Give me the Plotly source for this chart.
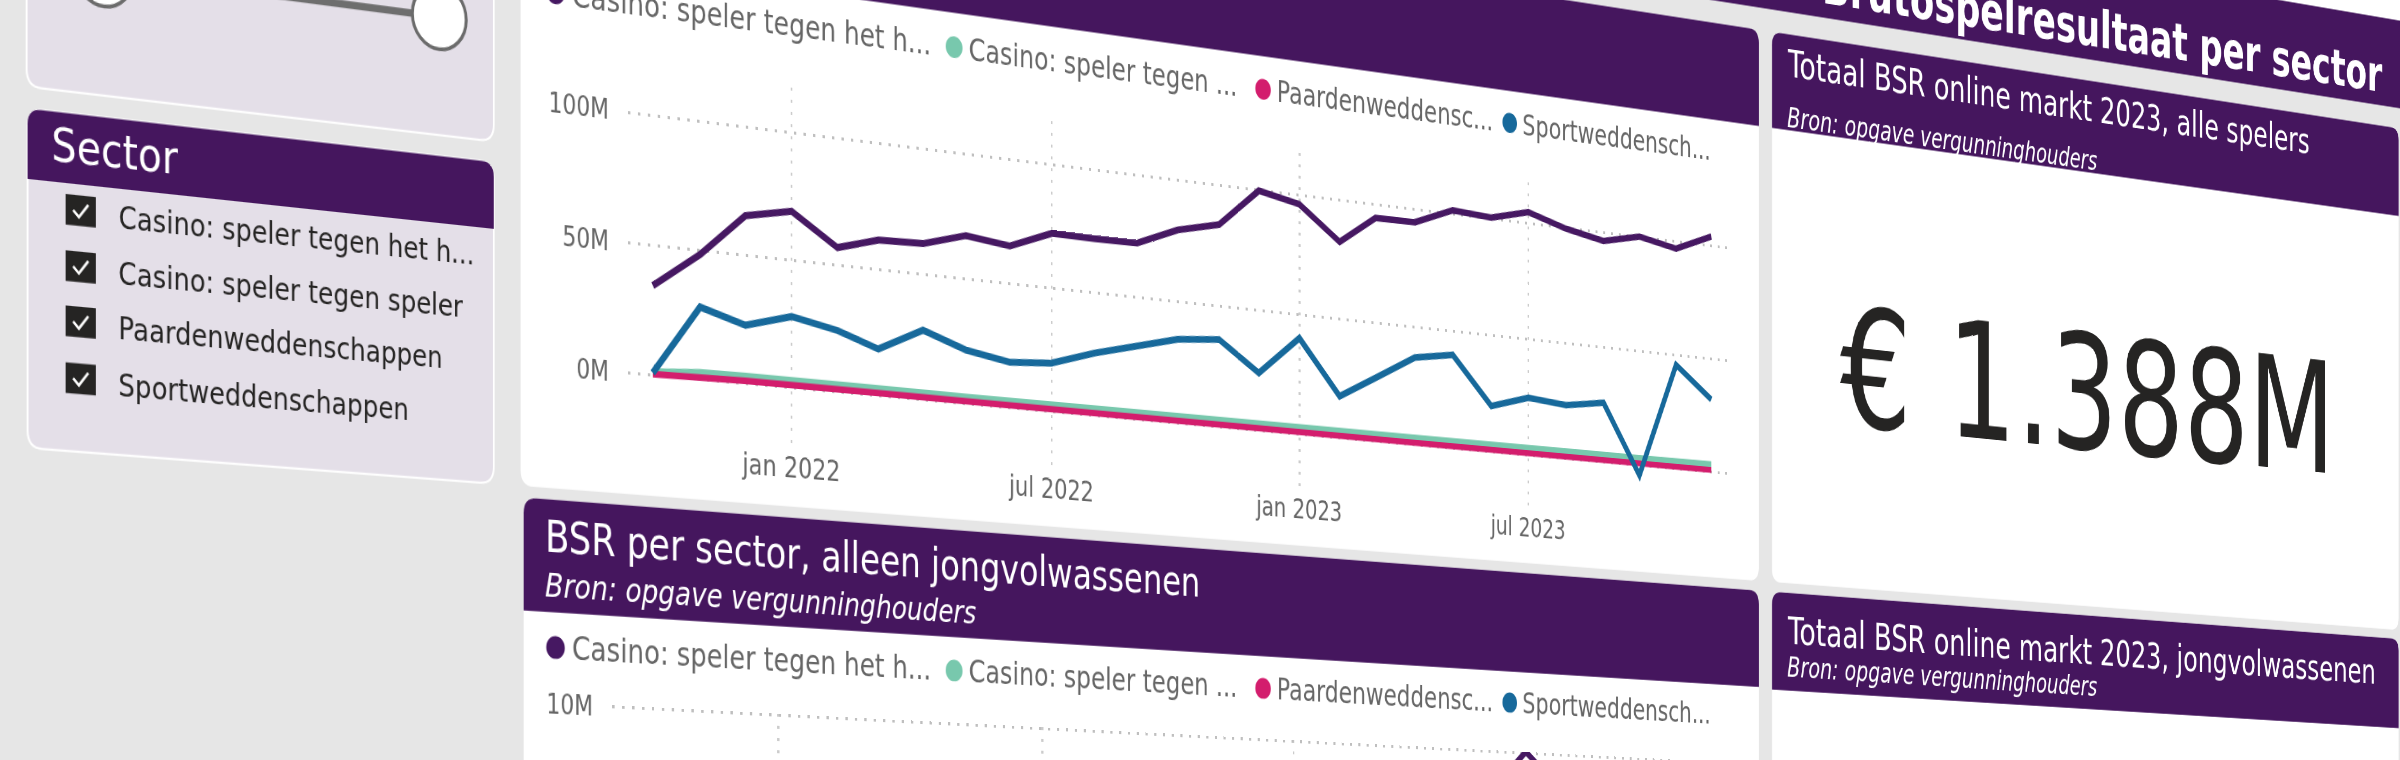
import numpy as np
import pandas as pd
import plotly.graph_objects as go

# ---------------- data (values in millions of euro) ----------------
months = pd.date_range("2021-10-01", "2023-12-01", freq="MS")

series_names = ["Casino: speler tegen het huis", "Casino: speler tegen speler",
                "Paardenweddenschappen", "Sportweddenschappen"]
legend_labels = ["Casino: speler tegen het h...", "Casino: speler tegen ...",
                 "Paardenweddensc...", "Sportweddensch..."]
slicer_labels = ["Casino: speler tegen het h...", "Casino: speler tegen speler",
                 "Paardenweddenschappen", "Sportweddenschappen"]
series_colors = ["#461862", "#78c8ad", "#d31d6d", "#17699b"]

all_huis = [34.5, 48.4, 65.4, 69.1, 56.9, 61.6, 62.2, 67.3, 65.1, 72.1, 71.9, 72.1, 79.4, 83.6,
            99.6, 96.0, 82.3, 94.2, 94.4, 101.4, 100.3, 104.6, 99.5, 96.2, 100.0, 96.7, 103.9]
all_speler = [1.5, 2.9, 3.1, 3.2, 3.1, 3.0, 3.0, 2.9, 2.9, 2.8, 2.9, 3.0, 3.1, 3.2,
              3.3, 3.3, 3.1, 3.2, 3.1, 3.2, 3.2, 3.3, 3.3, 3.4, 3.4, 3.5, 3.6]
all_paard = [0.5, 1.1, 1.2, 1.2, 1.1, 1.2, 1.2, 1.1, 1.2, 1.1, 1.1, 1.1, 1.1, 1.2,
             1.2, 1.1, 1.0, 1.0, 1.0, 1.0, 1.0, 1.0, 1.0, 1.0, 1.0, 1.0, 1.0]
all_sport = [1.0, 28.1, 22.8, 28.0, 24.3, 18.6, 27.8, 21.6, 18.4, 19.7, 25.5, 30.4, 34.5, 36.2,
             24.0, 40.2, 17.6, 26.8, 37.1, 39.9, 19.7, 24.8, 23.3, 25.9, -4.2, 45.7, 32.1]

jong_huis = [2.5, 3.6, 4.8, 5.2, 4.4, 4.7, 4.8, 5.1, 5.0, 5.6, 5.6, 5.7, 6.3, 6.6,
             7.9, 7.7, 6.6, 7.6, 7.7, 8.3, 8.4, 10.05, 8.6, 8.2, 8.5, 8.3, 8.9]
jong_speler = [0.1, 0.2, 0.2, 0.2, 0.2, 0.2, 0.2, 0.2, 0.2, 0.2, 0.2, 0.2, 0.2, 0.2,
               0.2, 0.2, 0.2, 0.2, 0.2, 0.2, 0.2, 0.2, 0.2, 0.2, 0.2, 0.2, 0.2]
jong_paard = [0.02, 0.05, 0.05, 0.05, 0.05, 0.05, 0.05, 0.05, 0.05, 0.05, 0.05, 0.05, 0.05, 0.05,
              0.05, 0.05, 0.05, 0.05, 0.05, 0.05, 0.05, 0.05, 0.05, 0.05, 0.05, 0.05, 0.05]
jong_sport = [0.1, 2.0, 1.7, 2.0, 1.8, 1.4, 2.0, 1.6, 1.4, 1.5, 1.9, 2.2, 2.5, 2.6,
              1.8, 2.9, 1.3, 2.0, 2.7, 2.9, 1.5, 1.8, 1.7, 1.9, -0.3, 3.3, 2.4]

x_tickvals = ["2022-01-01", "2022-07-01", "2023-01-01", "2023-07-01"]
x_ticktext = ["jan 2022", "jul 2022", "jan 2023", "jul 2023"]
top_tickvals = [0, 50, 100]
top_ticktext = ["0M", "50M", "100M"]
bot_tickvals = [10]
bot_ticktext = ["10M"]

page_title = "Brutospelresultaat per sector"
slicer_title = "Sector"
bottom_title = "BSR per sector, alleen jongvolwassenen"
source_text = "Bron: opgave vergunninghouders"
kpi1_title = "Totaal BSR online markt 2023, alle spelers"
kpi2_title = "Totaal BSR online markt 2023, jongvolwassenen"
kpi1_value = "€ 1.388M"

# ---------------- flat page geometry (px on the flat report page) ----------------
FW, FH = 3480, 1460
OX, OY = 140, 300
FONT = "DejaVu Sans"
PURPLE = "#45165e"
LAV = "#e4dfe8"
BG = "#e6e6e6"
TXT = "#252423"
GREY = "#666666"


def px(X):
    return (X + OX) / FW


def py(Y):
    return 1 - (Y + OY) / FH


TOP_X = (591.3, 2120.6)
TOP_Y = (88.0, 443.0)
BOT_X = (572.2, 2120.6)
BOT_Y = (713.0, 1068.0)
X_RANGE = ["2021-09-15", "2023-12-16"]
TOP_RANGE = [-21.6, 117.6]
BOT_RANGE = [-2.0, 10.05]
LX = -5  # horizontal offset of the left column


def rrect(x0, y0, x1, y1, rt, rb):
    f = lambda v: "%.6f" % v
    return ("M%s,%s Q%s,%s %s,%s L%s,%s Q%s,%s %s,%s L%s,%s Q%s,%s %s,%s L%s,%s Q%s,%s %s,%s Z" % (
        f(px(x0)), f(py(y0 + rt)), f(px(x0)), f(py(y0)), f(px(x0 + rt)), f(py(y0)),
        f(px(x1 - rt)), f(py(y0)), f(px(x1)), f(py(y0)), f(px(x1)), f(py(y0 + rt)),
        f(px(x1)), f(py(y1 - rb)), f(px(x1)), f(py(y1)), f(px(x1 - rb)), f(py(y1)),
        f(px(x0 + rb)), f(py(y1)), f(px(x0)), f(py(y1)), f(px(x0)), f(py(y1 - rb))))


shapes = []


def add_path(path, fill, line_color=None, line_width=0, layer="below"):
    shapes.append(dict(type="path", xref="paper", yref="paper", path=path, fillcolor=fill,
                       line=dict(color=line_color or fill, width=line_width), layer=layer))


def add_circle(X, Y, r, fill, line_color, line_width, layer="above"):
    shapes.append(dict(type="circle", xref="paper", yref="paper",
                       x0=px(X - r), x1=px(X + r), y0=py(Y + r), y1=py(Y - r),
                       fillcolor=fill, line=dict(color=line_color, width=line_width), layer=layer))


# page background pieces: white above the report, purple page-title banner
shapes.append(dict(type="rect", xref="paper", yref="paper", x0=px(-200), x1=px(3500),
                   y0=py(-252), y1=py(-420), fillcolor="white", line=dict(width=0), layer="below"))
shapes.append(dict(type="rect", xref="paper", yref="paper", x0=px(-200), x1=px(3500),
                   y0=py(-143), y1=py(-252), fillcolor=PURPLE, line=dict(width=0), layer="below"))

# left column: slider card and sector slicer
add_path(rrect(-79 + LX, -118, 437 + LX, 177, 16, 16), LAV, "white", 2)
add_path(rrect(-78 + LX, 197, 437 + LX, 506, 16, 16), LAV, "white", 2)
add_path(rrect(-78 + LX, 197, 437 + LX, 261, 14, 0), PURPLE)

# cards: top chart, KPI 1, bottom chart, KPI 2
for (x0, x1, y0, yh, y1) in [(463.5, 2169.0, -118, -9, 506), (2190.4, 3305.6, -118, -9, 506),
                             (467.0, 2169.0, 517, 626, 1140), (2190.4, 3305.6, 517, 628, 1140)]:
    add_path(rrect(x0, y0, x1, y1, 15, 15), "white")
    add_path(rrect(x0, y0, x1, yh, 15, 0), PURPLE)

# slider (track + handles)
shapes.append(dict(type="line", xref="paper", yref="paper", x0=px(3 + LX), x1=px(374 + LX),
                   y0=py(64), y1=py(64), line=dict(color="#6e6e6e", width=7), layer="above"))
add_circle(3 + LX, 64, 31, "white", "#6b6b6b", 3.5)
add_circle(374 + LX, 64, 31, "white", "#6b6b6b", 3.5)

annotations = []


def ann(text, X, Y, size, color, xanchor="left", weight="normal", style="normal"):
    annotations.append(dict(text=text, x=px(X), y=py(Y), xref="paper", yref="paper",
                            xanchor=xanchor, yanchor="middle", showarrow=False,
                            font=dict(family=FONT, size=size, color=color, weight=weight, style=style)))


def ann_base(text, X, baseline, size, color, **kw):
    ann(text, X, baseline - 0.346 * size, size, color, **kw)


# slicer content
ann_base(slicer_title, -55 + LX, 242, 42, "white")
box_tops = [271, 322.5, 373, 425]
for lab, yt in zip(slicer_labels, box_tops):
    x0, x1, y1 = -38 + LX, -6 + LX, yt + 28
    shapes.append(dict(type="rect", xref="paper", yref="paper", x0=px(x0), x1=px(x1),
                       y0=py(y1), y1=py(yt), fillcolor=TXT, line=dict(width=0), layer="above"))
    chk = "M%.6f,%.6f L%.6f,%.6f L%.6f,%.6f" % (px(x0 + 8), py(yt + 14), px(x0 + 14), py(yt + 20),
                                                  px(x0 + 24), py(yt + 8))
    shapes.append(dict(type="path", xref="paper", yref="paper", path=chk,
                       line=dict(color="white", width=2.5), layer="above"))
    ann(lab, 15.5 + LX, yt + 17, 28, TXT)

# chart headers / KPI headers
ann_base(bottom_title, 490, 568, 42, "white")
ann_base(source_text, 490, 611, 32, "white", style="italic")
ann_base(kpi1_title, 2213, -70, 43.5, "white")
ann_base(source_text, 2213, -13, 31.5, "white", style="italic")
ann_base(kpi2_title, 2213, 575, 43.5, "white")
ann_base(source_text, 2213, 612, 31.5, "white", style="italic")
ann_base(kpi1_value, 2742, 318, 188, TXT, xanchor="center")
ann_base(page_title, 3276, -160, 60, "white", xanchor="right", weight="bold")

# custom legends (Power BI style dots)
legend_x = [504.6, 1000.0, 1419.7, 1780.0]
for ly in (26, 660):
    for lab, col, lx in zip(legend_labels, series_colors, legend_x):
        add_circle(lx, ly, 11, col, col, 0)
        ann(lab, lx + 17, ly, 31.5, GREY)

# ---------------- traces ----------------
fig = go.Figure()
top_vals = [all_huis, all_speler, all_paard, all_sport]
bot_vals = [jong_huis, jong_speler, jong_paard, jong_sport]
widths = [7, 6.5, 6.5, 7]
for name, col, vals, w in zip(series_names, series_colors, top_vals, widths):
    fig.add_trace(go.Scatter(x=months, y=vals, name=name, mode="lines",
                             line=dict(color=col, width=w), xaxis="x", yaxis="y", showlegend=False))
for name, col, vals, w in zip(series_names, series_colors, bot_vals, widths):
    fig.add_trace(go.Scatter(x=months, y=vals, name=name, mode="lines",
                             line=dict(color=col, width=w), xaxis="x2", yaxis="y2", showlegend=False))

grid_h = dict(showgrid=True, gridcolor="#bfbfbf", griddash="3px,9px", gridwidth=3)
grid_v = dict(showgrid=True, gridcolor="#cccccc", griddash="3px,9px", gridwidth=2.5)
xcommon = dict(type="date", range=X_RANGE, tickvals=x_tickvals, ticktext=x_ticktext, ticks="",
               showline=False, zeroline=False, ticklabelstandoff=5,
               tickfont=dict(family=FONT, size=28, color=GREY), **grid_v)
ycommon = dict(ticks="", showline=False, zeroline=False, ticklabelstandoff=22,
               tickfont=dict(family=FONT, size=26, color=GREY), **grid_h)

fig.update_layout(
    width=FW, height=FH, autosize=False,
    margin=dict(l=0, r=0, t=0, b=0, pad=0),
    paper_bgcolor=BG, plot_bgcolor="rgba(0,0,0,0)",
    showlegend=False,
    xaxis=dict(domain=[px(TOP_X[0]), px(TOP_X[1])], anchor="y", **xcommon),
    yaxis=dict(domain=[py(TOP_Y[1]), py(TOP_Y[0])], anchor="x", range=TOP_RANGE,
               tickvals=top_tickvals, ticktext=top_ticktext, **ycommon),
    xaxis2=dict(domain=[px(BOT_X[0]), px(BOT_X[1])], anchor="y2", showticklabels=False, **xcommon),
    yaxis2=dict(domain=[py(BOT_Y[1]), py(BOT_Y[0])], anchor="x2", range=BOT_RANGE,
                tickvals=bot_tickvals, ticktext=bot_ticktext, **ycommon),
    shapes=shapes, annotations=annotations,
)

# ---------------- camera: perspective view of the report page ----------------
t0, t1 = pd.Timestamp(X_RANGE[0]).value, pd.Timestamp(X_RANGE[1]).value


def top_point(date, val):
    t = pd.Timestamp(date).value
    X = TOP_X[0] + (t - t0) / (t1 - t0) * (TOP_X[1] - TOP_X[0])
    Y = TOP_Y[1] - (val - TOP_RANGE[0]) / (TOP_RANGE[1] - TOP_RANGE[0]) * (TOP_Y[1] - TOP_Y[0])
    return X + OX, Y + OY


src = [top_point("2022-01-01", 100), top_point("2022-01-01", 0),
       top_point("2023-07-01", 100), top_point("2023-07-01", 0)]
dst = [(791.7, 123.0), (791.7, 381.2), (1528.3, 214.5), (1528.3, 449.2)]
A, b = [], []
for (x, y), (u, v) in zip(src, dst):
    A.append([x, y, 1, 0, 0, 0, -u * x, -u * y]); b.append(u)
    A.append([0, 0, 0, x, y, 1, -v * x, -v * y]); b.append(v)
h = np.linalg.solve(np.array(A, float), np.array(b, float))
m3d = [h[0], h[3], 0, h[6], h[1], h[4], 0, h[7], 0, 0, 1, 0, h[2], h[5], 0, 1]
m3d_str = ",".join("%.12g" % v for v in m3d)

post = ("var gd=document.getElementById('{plot_id}');"
        "document.documentElement.style.overflow='hidden';"
        "document.body.style.margin='0';document.body.style.overflow='hidden';"
        "document.body.style.background='" + BG + "';"
        "gd.style.position='absolute';gd.style.left='0px';gd.style.top='0px';"
        "gd.style.transformOrigin='0 0';"
        "gd.style.transform='matrix3d(" + m3d_str + ")';")

fig.write_html("out.html", include_plotlyjs=True, post_script=post,
               config=dict(displayModeBar=False, staticPlot=True, responsive=False))
